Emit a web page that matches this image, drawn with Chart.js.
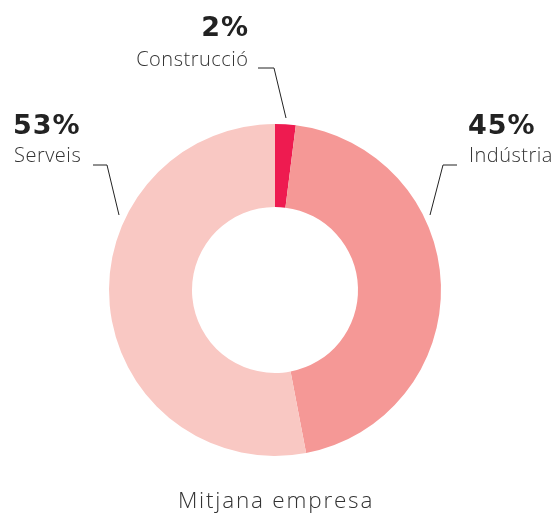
<!DOCTYPE html>
<html>
<head>
<meta charset="utf-8">
<script src="https://cdn.jsdelivr.net/npm/chart.js@4/dist/chart.umd.min.js"></script>
<style>
  html, body { margin: 0; padding: 0; background: #fff; }
  #wrap { width: 554px; height: 516px; }
</style>
</head>
<body>
<div id="wrap"><canvas id="pie"></canvas></div>
<script>
const sectors = ['Construcció', 'Indústria', 'Serveis'];
const shares = [2, 45, 53];
const colors = ['#EE1B50', '#F59896', '#F9C8C3'];
const chartTitle = 'Mitjana empresa';

// leader line + label placement, relative to doughnut centre (dx, dy in px)
const labelSpots = [
  { tip: [11, -172], elbow: [-1, -222], end: [-17, -222], x: -27, align: 'right' },
  { tip: [155, -75], elbow: [168, -125], end: [182, -125], x: 193, align: 'left' },
  { tip: [-156, -75], elbow: [-168, -125], end: [-182, -125], x: -262, align: 'left' }
];
const labelRows = [[-254, -224], [-156, -128], [-156, -128]];

const leaderLabels = {
  id: 'leaderLabels',
  afterDraw(chart) {
    const ctx = chart.ctx;
    const arc = chart.getDatasetMeta(0).data[0];
    const cx = arc.x, cy = arc.y;
    ctx.save();
    ctx.textBaseline = 'alphabetic';
    shares.forEach((v, i) => {
      const s = labelSpots[i];
      ctx.strokeStyle = '#222';
      ctx.lineWidth = 1;
      ctx.beginPath();
      ctx.moveTo(cx + s.end[0], cy + s.end[1]);
      ctx.lineTo(cx + s.elbow[0], cy + s.elbow[1]);
      ctx.lineTo(cx + s.tip[0], cy + s.tip[1]);
      ctx.stroke();

      ctx.fillStyle = '#222';
      ctx.textAlign = s.align;
      ctx.letterSpacing = '1px';
      ctx.font = 'bold 27px "DejaVu Sans"';
      ctx.fillText(v + '%', cx + s.x + (s.align === 'right' ? 1 : 0), cy + labelRows[i][0]);
      ctx.letterSpacing = '0.5px';
      ctx.font = '300 20px "Open Sans"';
      ctx.fillStyle = '#333';
      ctx.fillText(sectors[i], cx + s.x + (s.align === 'left' ? 1 : 0.5), cy + labelRows[i][1]);
    });
    // title under the ring
    ctx.textAlign = 'center';
    ctx.letterSpacing = '1.8px';
    ctx.font = '300 22.5px "Open Sans"';
    ctx.fillStyle = '#333';
    ctx.fillText(chartTitle, cx + 1, cy + 218);
    ctx.restore();
  }
};

new Chart(document.getElementById('pie'), {
  type: 'doughnut',
  data: {
    labels: sectors,
    datasets: [{
      data: shares,
      backgroundColor: colors,
      borderWidth: 0
    }]
  },
  options: {
    responsive: true,
    maintainAspectRatio: false,
    animation: false,
    cutout: '50%',
    layout: { padding: { top: 124, left: 0, right: 4, bottom: 60 } },
    plugins: {
      legend: { display: false },
      tooltip: { enabled: false }
    }
  },
  plugins: [leaderLabels]
});
</script>
</body>
</html>
